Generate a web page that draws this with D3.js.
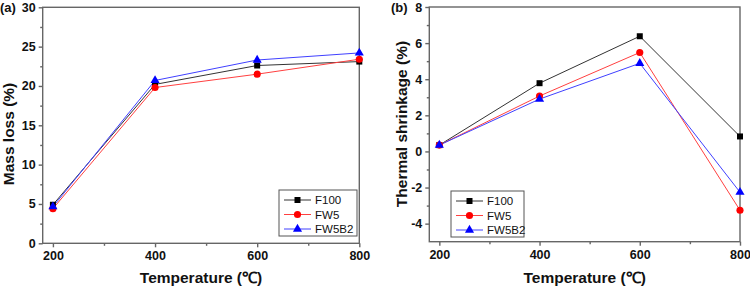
<!DOCTYPE html>
<html>
<head>
  <meta charset="utf-8">
  <title>Mass loss and thermal shrinkage</title>
  <script src="https://d3js.org/d3.v7.min.js"></script>
  <style>
    body { margin: 0; background: #fff; }
    svg { font-family: "Liberation Sans", Arial, sans-serif; }
    .axis path, .axis line { stroke: #666; stroke-width: 1.4px; }
    .axis text { font-size: 12.5px; font-weight: bold; fill: #111; }
    .frame { fill: none; stroke: #666; stroke-width: 1.4px; }
    .title { font-size: 15.5px; font-weight: bold; fill: #111; }
    .legend rect { fill: #fff; stroke: #555; stroke-width: 1px; }
    .legend text { font-size: 11.5px; fill: #111; }
  </style>
</head>
<body>
<script>
  // data
  var temps = [200, 400, 600, 800];
  var seriesNames = ["F100", "FW5", "FW5B2"];

  var massF100 = [4.9, 20.2, 22.6, 23.1];
  var massFW5 = [4.4, 19.8, 21.5, 23.4];
  var massFW5B2 = [4.65, 20.7, 23.3, 24.2];

  var shrinkF100 = [0.35, 3.78, 6.38, 0.83];
  var shrinkFW5 = [0.35, 3.07, 5.48, -3.26];
  var shrinkFW5B2 = [0.35, 2.9, 4.88, -2.26];

  var xTicks = [200, 400, 600, 800];
  var massTicks = [0, 5, 10, 15, 20, 25, 30];
  var shrinkTicks = [-4, -2, 0, 2, 4, 6, 8];

  var lineColors = ["#333", "#ff4040", "#4040ff"];
  var markColors = ["#000", "#ff0000", "#0000ff"];
  var markShapes = [d3.symbolSquare, d3.symbolCircle, d3.symbolTriangle];
  var markSizes = [36, 40, 36];

  var svg = d3.select("body").append("svg")
      .attr("width", 750)
      .attr("height", 287);

  // Origin prints a plain hyphen for negatives
  var plain = function(d) { return String(d); };

  function panel(opt) {
    var x = d3.scaleLinear().domain([180, 800]).range([opt.left, opt.right]);
    var y = d3.scaleLinear().domain(opt.yDomain).range([opt.bottom, opt.top]);

    var g = svg.append("g");

    // minor ticks
    g.append("g")
        .attr("class", "axis")
        .attr("transform", "translate(0," + opt.bottom + ")")
        .call(d3.axisBottom(x).tickValues([300, 500, 700]).tickSize(2.5).tickFormat(""))
        .select(".domain").remove();
    g.append("g")
        .attr("class", "axis")
        .attr("transform", "translate(" + opt.left + ",0)")
        .call(d3.axisLeft(y).tickValues(opt.yMinor).tickSize(2.5).tickFormat(""))
        .select(".domain").remove();

    // major ticks
    g.append("g")
        .attr("class", "axis")
        .attr("transform", "translate(0," + opt.bottom + ")")
        .call(d3.axisBottom(x).tickValues(xTicks).tickSize(4).tickPadding(4).tickFormat(plain))
        .select(".domain").remove();
    g.append("g")
        .attr("class", "axis")
        .attr("transform", "translate(" + opt.left + ",0)")
        .call(d3.axisLeft(y).tickValues(opt.yTicks).tickSize(4).tickPadding(3).tickFormat(plain))
        .select(".domain").remove();

    g.append("rect")
        .attr("class", "frame")
        .attr("x", opt.left)
        .attr("y", opt.top)
        .attr("width", opt.right - opt.left)
        .attr("height", opt.bottom - opt.top);

    var line = d3.line()
        .x(function(d, i) { return x(temps[i]); })
        .y(function(d) { return y(d); });

    opt.series.forEach(function(vals, k) {
      g.append("path")
          .datum(vals)
          .attr("fill", "none")
          .attr("stroke", lineColors[k])
          .attr("stroke-width", 1)
          .attr("d", line);
    });
    opt.series.forEach(function(vals, k) {
      g.selectAll(null)
          .data(vals)
          .enter().append("path")
          .attr("transform", function(d, i) { return "translate(" + x(temps[i]) + "," + y(d) + ")"; })
          .attr("d", d3.symbol().type(markShapes[k]).size(markSizes[k]))
          .attr("fill", markColors[k]);
    });

    // legend
    var lg = g.append("g").attr("class", "legend")
        .attr("transform", "translate(" + opt.legend[0] + "," + opt.legend[1] + ")");
    lg.append("rect").attr("width", opt.legend[2]).attr("height", 46);
    seriesNames.forEach(function(name, k) {
      var yy = 10 + k * 14.5;
      lg.append("line")
          .attr("x1", 5).attr("x2", 32)
          .attr("y1", yy).attr("y2", yy)
          .attr("stroke", lineColors[k]);
      lg.append("path")
          .attr("transform", "translate(18.5," + yy + ")")
          .attr("d", d3.symbol().type(markShapes[k]).size(markSizes[k]))
          .attr("fill", markColors[k]);
      lg.append("text")
          .attr("x", 36).attr("y", yy + 4)
          .text(name);
    });

    g.append("text")
        .attr("class", "title")
        .attr("text-anchor", "middle")
        .attr("x", (opt.left + opt.right) / 2)
        .attr("y", 283)
        .text("Temperature (℃)");

    g.append("text")
        .attr("class", "title")
        .attr("text-anchor", "middle")
        .attr("transform", "translate(" + opt.yTitleX + "," + opt.yTitleY + ") rotate(-90)")
        .text(opt.yTitle);

    g.append("text")
        .attr("class", "title")
        .style("font-size", "13px")
        .attr("x", opt.tagX)
        .attr("y", opt.top + 5)
        .text(opt.tag);
  }

  panel({
    left: 42.7, right: 359.3, top: 7.3, bottom: 243.3,
    yDomain: [0, 30],
    yTicks: massTicks,
    yMinor: [2.5, 7.5, 12.5, 17.5, 22.5, 27.5],
    series: [massF100, massFW5, massFW5B2],
    legend: [279, 190, 78],
    yTitle: "Mass loss (%)",
    yTitleX: 13.5,
    yTitleY: 134,
    tag: "(a)",
    tagX: 0
  });

  panel({
    left: 429.3, right: 740, top: 7, bottom: 241.7,
    yDomain: [-5, 8],
    yTicks: shrinkTicks,
    yMinor: [-3, -1, 1, 3, 5, 7],
    series: [shrinkF100, shrinkFW5, shrinkFW5B2],
    legend: [451, 191, 73],
    yTitle: "Thermal shrinkage (%)",
    yTitleX: 407,
    yTitleY: 124,
    tag: "(b)",
    tagX: 391
  });
</script>
</body>
</html>
